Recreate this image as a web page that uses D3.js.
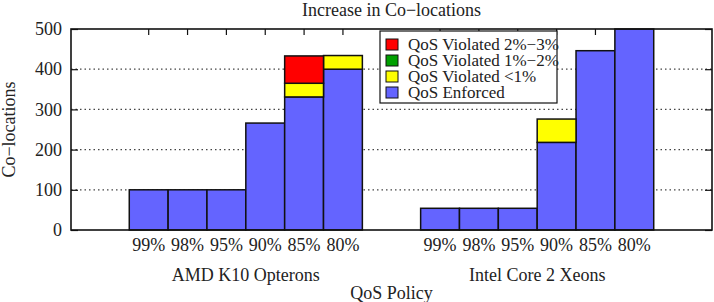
<!DOCTYPE html>
<html>
<head>
<meta charset="utf-8">
<script src="https://cdn.jsdelivr.net/npm/d3@7"></script>
<style>
  body { margin: 0; background: #fff; }
  svg text { font-family: "Liberation Serif", "Times New Roman", Times, serif !important; fill: #222; }
</style>
</head>
<body>
<svg id="chart" width="714" height="302"></svg>
<script>
// data
var groups = ["AMD K10 Opterons", "Intel Core 2 Xeons"];
var policies = ["99%", "98%", "95%", "90%", "85%", "80%"];
var enforced = [[100, 100, 100, 266, 331, 400], [54, 54, 54, 218, 446, 500]];
var violatedLt1 = [[0, 0, 0, 0, 34, 34], [0, 0, 0, 58, 0, 0]];
var violated1to2 = [[0, 0, 0, 0, 0, 0], [0, 0, 0, 0, 0, 0]];
var violated2to3 = [[0, 0, 0, 0, 68, 0], [0, 0, 0, 0, 0, 0]];
var yTicks = [0, 100, 200, 300, 400, 500];

var seriesKeys = ["enforced", "lt1", "v12", "v23"];
var seriesNames = ["QoS Enforced", "QoS Violated <1%", "QoS Violated 1%\u22122%", "QoS Violated 2%\u22123%"];
var seriesColors = ["#6464ff", "#ffff00", "#00a000", "#ff0000"];

var FONT = "'Liberation Serif', 'Times New Roman', serif";

var svg = d3.select("#chart"),
    margin = { top: 29, right: 2, bottom: 72, left: 71 },
    width = +svg.attr("width") - margin.left - margin.right,
    height = +svg.attr("height") - margin.top - margin.bottom;

// build rows for the stack
var rows = [];
groups.forEach(function (g, gi) {
    policies.forEach(function (p, pi) {
        rows.push({ group: g, policy: p,
            enforced: enforced[gi][pi], lt1: violatedLt1[gi][pi],
            v12: violated1to2[gi][pi], v23: violated2to3[gi][pi] });
    });
});
var stacked = d3.stack().keys(seriesKeys)(rows);

var x0 = d3.scaleBand().domain(groups).range([0, width]).paddingInner(0.2).paddingOuter(0.2);
var x1 = d3.scaleBand().domain(policies).range([0, x0.bandwidth()]).padding(0);
var y = d3.scaleLinear().domain([0, 500]).range([height, 0]);

function xc(d) { return x0(d.group) + x1(d.policy) + x1.bandwidth() / 2; }

var g = svg.append("g")
    .attr("transform", "translate(" + margin.left + "," + margin.top + ")");

// dotted grid
g.selectAll(".grid")
    .data(yTicks.filter(function (t) { return t > 0 && t < 500; }))
    .enter().append("line")
    .attr("x1", 0).attr("x2", width)
    .attr("y1", function (d) { return y(d); }).attr("y2", function (d) { return y(d); })
    .attr("stroke", "#444").attr("stroke-width", 1.2)
    .attr("stroke-dasharray", "1.5,3");

// mirrored tick marks at the top (bar centers)
g.selectAll(".ttick")
    .data(rows)
    .enter().append("line")
    .attr("x1", xc).attr("x2", xc)
    .attr("y1", 0).attr("y2", 6)
    .attr("stroke", "#111").attr("stroke-width", 1.2);

// y ticks left and right, pointing inward
g.append("g")
    .call(d3.axisLeft(y).tickValues(yTicks).tickSize(-7).tickPadding(9))
    .call(function (a) { a.select(".domain").remove(); })
    .attr("font-family", FONT)
    .selectAll("text")
    .attr("font-size", "18px")
    .attr("fill", "#222");
g.append("g")
    .attr("transform", "translate(" + width + ",0)")
    .call(d3.axisRight(y).tickValues(yTicks).tickSize(-7).tickFormat(""))
    .call(function (a) { a.select(".domain").remove(); });
g.selectAll(".tick line").attr("stroke", "#111").attr("stroke-width", 1.2);

// stacked bars
g.selectAll(".series")
    .data(stacked)
    .enter().append("g")
    .attr("fill", function (d, i) { return seriesColors[i]; })
    .selectAll("rect")
    .data(function (d) { return d.filter(function (s) { return s[1] - s[0] > 0; }); })
    .enter().append("rect")
    .attr("x", function (d) { return x0(d.data.group) + x1(d.data.policy); })
    .attr("y", function (d) { return y(d[1]); })
    .attr("width", x1.bandwidth())
    .attr("height", function (d) { return y(d[0]) - y(d[1]); })
    .attr("stroke", "#111")
    .attr("stroke-width", 1.5);

// frame
g.append("rect")
    .attr("width", width).attr("height", height)
    .attr("fill", "none").attr("stroke", "#111").attr("stroke-width", 1.6);

// x tick labels
g.selectAll(".xlab")
    .data(rows)
    .enter().append("text")
    .attr("x", xc)
    .attr("y", height + 21)
    .attr("text-anchor", "middle")
    .attr("font-family", FONT)
    .attr("font-size", "18px")
    .text(function (d) { return d.policy; });

// group labels
g.selectAll(".glab")
    .data(groups)
    .enter().append("text")
    .attr("x", function (d) { return x0(d) + x0.bandwidth() / 2; })
    .attr("y", height + 51)
    .attr("text-anchor", "middle")
    .attr("font-family", FONT)
    .attr("font-size", "18px")
    .text(function (d) { return d; });

// axis titles
g.append("text")
    .attr("x", width / 2).attr("y", height + 69)
    .attr("text-anchor", "middle").attr("font-size", "18px")
    .attr("font-family", FONT)
    .text("QoS Policy");
svg.append("text")
    .attr("transform", "translate(15," + (margin.top + height / 2) + ") rotate(-90)")
    .attr("text-anchor", "middle").attr("font-size", "18px")
    .attr("font-family", FONT)
    .text("Co\u2212locations");
svg.append("text")
    .attr("x", margin.left + width / 2).attr("y", 16)
    .attr("text-anchor", "middle").attr("font-size", "18px")
    .attr("font-family", FONT)
    .text("Increase in Co\u2212locations");

// legend
var legend = svg.append("g").attr("transform", "translate(380,31)");
legend.append("rect")
    .attr("width", 177).attr("height", 72)
    .attr("fill", "#fff").attr("stroke", "#111").attr("stroke-width", 1.2);
var order = [3, 2, 1, 0];
var item = legend.selectAll(".item")
    .data(order)
    .enter().append("g")
    .attr("transform", function (d, i) { return "translate(6," + (8 + i * 16) + ")"; });
item.append("rect")
    .attr("width", 12).attr("height", 11)
    .attr("fill", function (d) { return seriesColors[d]; })
    .attr("stroke", "#111").attr("stroke-width", 1);
item.append("text")
    .attr("x", 22).attr("y", 11)
    .attr("font-family", FONT)
    .attr("font-size", "17px")
    .text(function (d) { return seriesNames[d]; });
</script>
</body>
</html>
